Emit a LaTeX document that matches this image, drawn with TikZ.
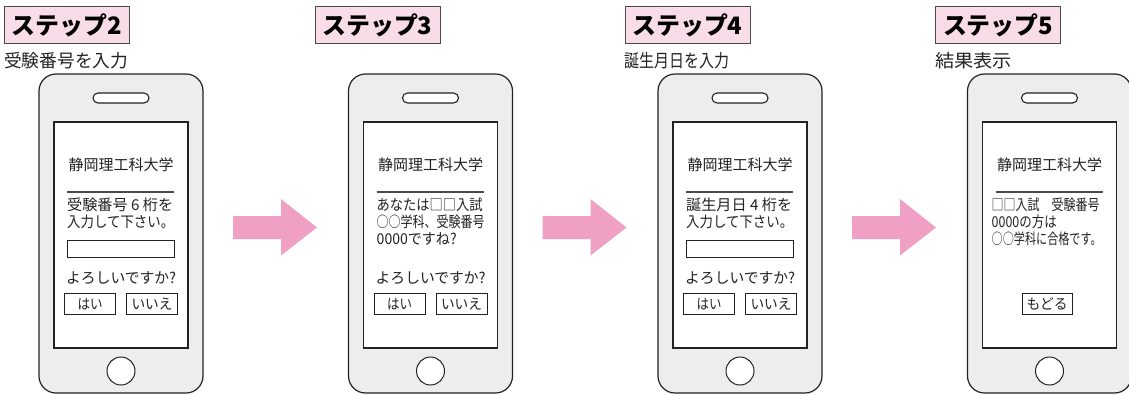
\documentclass[tikz,border=0pt]{standalone}
\usepackage{fontspec}
\usepackage{graphicx}
\setmainfont{Noto Sans CJK JP}
\definecolor{phonefill}{HTML}{EDEDED}
\definecolor{stepfill}{HTML}{F8DCE7}
\definecolor{stepline}{HTML}{4A4A4A}
\definecolor{arrowpink}{HTML}{F0A0C4}
\definecolor{ink}{HTML}{222222}
\newcommand\fitw[2]{\resizebox{#1pt}{\height}{#2}}
\tikzset{
  phonebody/.style={draw=ink, line width=1.2pt, fill=phonefill, rounded corners=17pt,
    inner sep=0pt, outer sep=0pt, minimum width=164pt, minimum height=319pt, anchor=north west},
  screenbox/.style={draw=ink, line width=1.1pt, fill=white, inner sep=0pt, outer sep=0pt,
    minimum width=134pt, minimum height=226pt, anchor=north west},
  speaker/.style={draw=ink, line width=1.1pt, fill=white, rounded corners=5pt, inner sep=0pt,
    minimum width=56pt, minimum height=10pt},
  homebtn/.style={draw=ink, line width=1pt, fill=white, circle, inner sep=0pt, minimum size=28pt},
  titletxt/.style={inner sep=0pt, text=ink, font=\fontsize{15}{15}\selectfont},
  bodytxt/.style={inner sep=0pt, text=ink, anchor=west, font=\fontsize{15}{15}\selectfont},
  rule/.style={draw=stepline, line width=1.8pt},
  inputbox/.style={draw=ink, line width=1.1pt, fill=white, inner sep=0pt, anchor=north west,
    minimum width=107pt, minimum height=17pt},
  btn/.style={draw=ink, line width=1.1pt, fill=white, inner sep=0pt, anchor=north west,
    minimum width=51pt, minimum height=21pt, text=ink, font=\fontsize{14.5}{14.5}\selectfont},
  stepbox/.style={draw=stepline, line width=1pt, fill=stepfill, inner sep=0pt, anchor=north west,
    minimum width=125pt, minimum height=37pt, text=black, font=\fontsize{24}{24}\selectfont\bfseries},
  subtxt/.style={inner sep=0pt, text=ink, anchor=west, font=\fontsize{18}{18}\selectfont},
  pinkarrow/.style={fill=arrowpink}
}
% phone frame: #1 = name prefix
\newcommand\phoneframe[1]{%
  \node[phonebody] (#1body) at (0,74) {};
  \node[screenbox] (#1screen) at (15,122) {};
  \node[speaker] (#1spk) at (82,98) {};
  \node[homebtn] (#1home) at (82,371) {};
  \node[titletxt] (#1title) at (82,165) {静岡理工科大学};
  \coordinate (#1ruleA) at (28,192);
  \coordinate (#1ruleB) at (135,192);
  \draw[rule] (#1ruleA) -- (#1ruleB);
}
\newcommand\confirmrow[1]{%
  \node[bodytxt] (#1q) at (27,278) {\fitw{110}{よろしいですか?}};
  \node[btn] (#1yes) at (25,293) {\fitw{25}{はい}};
  \node[btn] (#1no) at (87,293) {\fitw{41}{いいえ}};
}
\newcommand\pinkarrowshape[1]{%
  \coordinate (#1) at (233,227.5);
  \fill[pinkarrow] (#1) ++(0,-11.5) -- ++(48,0) -- ++(0,-17) -- ++(36,28.5) -- ++(-36,28) -- ++(0,-16.5) -- ++(-48,0) -- cycle;
}
\begin{document}
\begin{tikzpicture}[x=1pt,y=-1pt]
\useasboundingbox (0,0) rectangle (1129,394);

% ---------- step 2 ----------
\node[stepbox] (st2) at (4,6) {\fitw{110}{ステップ2}};
\node[subtxt] (sub2) at (4,61) {\fitw{124}{受験番号を入力}};
\begin{scope}[shift={(39,0)}]
  \phoneframe{pa}
  \node[bodytxt] (pal1) at (28,205) {\fitw{106}{受験番号 6 桁を}};
  \node[bodytxt] (pal2) at (28,222) {\fitw{107}{入力して下さい。}};
  \node[inputbox] (pain) at (28,240) {};
  \confirmrow{pa}
\end{scope}

\begin{scope}[shift={(0,0)}]
  \pinkarrowshape{arA}
\end{scope}

% ---------- step 3 ----------
\node[stepbox] (st3) at (314.5,6) {\fitw{110}{ステップ3}};
\begin{scope}[shift={(348.5,0)}]
  \phoneframe{pb}
  \node[bodytxt] (pbl1) at (28,205) {\fitw{106}{あなたは□□入試}};
  \node[bodytxt] (pbl2) at (28,222) {\fitw{108}{○○学科、受験番号}};
  \node[bodytxt] (pbl3) at (28,239) {\fitw{80}{0000ですね?}};
  \confirmrow{pb}
\end{scope}

\begin{scope}[shift={(309.5,0)}]
  \pinkarrowshape{arB}
\end{scope}

% ---------- step 4 ----------
\node[stepbox] (st4) at (624.5,6) {\fitw{110}{ステップ4}};
\node[subtxt] (sub4) at (624.5,61) {\fitw{105}{誕生月日を入力}};
\begin{scope}[shift={(658,0)}]
  \phoneframe{pc}
  \node[bodytxt] (pcl1) at (28,205) {\fitw{106}{誕生月日 4 桁を}};
  \node[bodytxt] (pcl2) at (28,222) {\fitw{107}{入力して下さい。}};
  \node[inputbox] (pcin) at (28,240) {};
  \confirmrow{pc}
\end{scope}

\begin{scope}[shift={(619,0)}]
  \pinkarrowshape{arC}
\end{scope}

% ---------- step 5 ----------
\node[stepbox] (st5) at (935,6) {\fitw{110}{ステップ5}};
\node[subtxt] (sub5) at (935,61) {\fitw{77}{結果表示}};
\begin{scope}[shift={(967.5,0)}]
  \phoneframe{pd}
  \node[bodytxt] (pdl1) at (24,205) {\fitw{108}{□□入試　受験番号}};
  \node[bodytxt] (pdl2) at (24,222) {\fitw{65}{0000の方は}};
  \node[bodytxt] (pdl3) at (24,239) {\fitw{110}{○○学科に合格です。}};
  \node[btn, minimum width=50pt] (pdback) at (54,293) {\fitw{41}{もどる}};
\end{scope}
\end{tikzpicture}
\end{document}
